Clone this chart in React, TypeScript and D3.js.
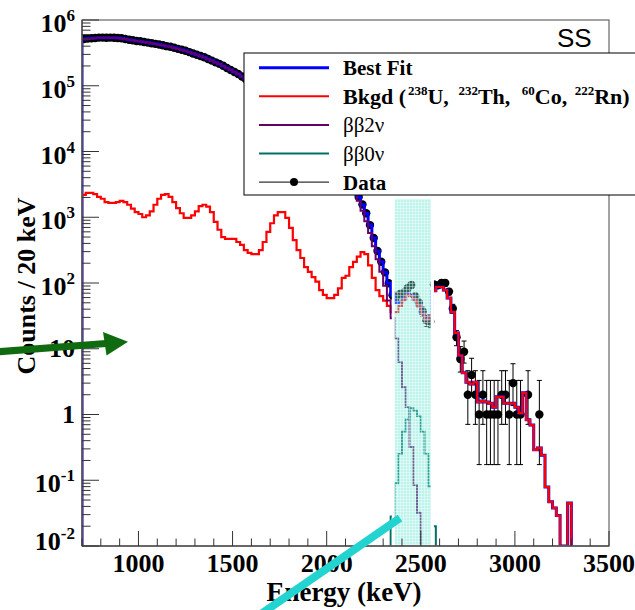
import React from "react";
import * as d3 from "d3";

// Energy binning of every histogram (keV)
const ENERGY_MIN = 700;
const ENERGY_MAX = 3500;
const BIN_KEV = 20;

// Background model (238U, 232Th, 60Co, 222Rn), counts per bin starting at 700 keV
const bkgdCounts = [
  2190, 2340, 2340, 2240, 2040, 1910, 1700, 1660, 1660, 1700,
  1780, 1700, 1550, 1350, 1200, 1120, 1000, 1070, 1230, 1550,
  1910, 2190, 2240, 2040, 1700, 1380, 1150, 980, 980, 1070,
  1230, 1480, 1550, 1450, 1200, 850, 645, 500, 470, 470,
  470, 420, 380, 316, 288, 275, 275, 316, 420, 600,
  810, 1070, 1200, 1200, 980, 690, 450, 316, 240, 174,
  148, 123, 105, 78, 66, 59, 59, 66, 83, 120,
  129, 174, 209, 251, 295, 275, 186, 120, 78, 63,
  54, 45, 36, 36, 45, 55, 66, 63, 55, 45,
  34, 27.5, 31.6, 76, 87, 87, 78, 59, 36, 17.4,
  7.9, 4.3, 3.1, 2.9, 3.1, 1.55, 1.6, 1.55, 1.48, 1.29,
  1.86, 1.86, 1.48, 1.48, 1.48, 1.29, 1.05, 2.14, 0.83, 0.69,
  0.29, 0.31, 0.24, 0.079, 0.047, 0.038, 0.029, 0, 0, 0.045,
];

// Two-neutrino double beta decay, counts per bin starting at 700 keV
const twoNuCounts = [
  513000, 519000, 525000, 531000, 537000, 537000, 537000, 537000, 536000, 531000,
  525000, 513000, 501000, 490000, 479000, 473000, 462000, 452000, 442000, 432000,
  422000, 412000, 398000, 389000, 376000, 363000, 351000, 339000, 324000, 309000,
  295000, 282000, 269000, 254000, 240000, 226000, 214000, 200000, 186000, 174000,
  162000, 151000, 138000, 126000, 115000, 105000, 95500, 87100, 78500, 70800,
  63100, 56200, 50100, 44700, 38900, 33900, 29500, 25700, 22400, 19100,
  16400, 14100, 12200, 10500, 8900, 7600, 6500, 5500, 4700, 3940,
  3310, 2750, 2290, 1780, 1260, 870, 575, 363, 229, 148,
  91, 54, 29, 14.5, 6.3, 2.6, 1.3, 0.32, 0.085, 0.032,
];

// Neutrinoless double beta decay, counts per bin starting at 2340 keV
const zeroNuStartKeV = 2340;
const zeroNuCounts = [0.028, 0.09, 0.25, 0.55, 0.85, 1.25, 1.15, 0.95, 0.55, 0.25, 0.08, 0.02];

// Observed counts per bin starting at 700 keV
const dataCounts = [
  515000, 521000, 527000, 533000, 539000, 539000, 538000, 539000, 538000, 533000,
  527000, 515000, 502000, 491000, 480000, 474000, 463000, 453000, 443000, 434000,
  424000, 414000, 400000, 391000, 378000, 364000, 352000, 340000, 325000, 310000,
  296000, 283000, 271000, 255000, 241000, 227000, 215000, 201000, 186000, 174000,
  162000, 151000, 138000, 126000, 115000, 105000, 95800, 87400, 78900, 71400,
  63900, 57300, 51300, 45900, 39900, 34600, 29900, 26000, 22600, 19300,
  16500, 14200, 12300, 10600, 8970, 7660, 6560, 5570, 4780, 4060,
  3440, 2920, 2500, 2030, 1560, 1150, 760, 483, 307, 211,
  145, 99, 65, 62, 68, 71, 83, 93, 63, 50,
  37, 27, 26, 95, 92, 100, 100, 74, 41, 15,
  7, 9, 2, 4, 2, 1, 2, 1, 1, 1,
  1, 2, 2, 1, 3, 1, 1, 0, 2, 0,
  0, 1,
];

// Region of interest around Q(bb)
const roiKeV = [2362, 2554];
const roiCeiling = 1900;

const xTickValues = [1000, 1500, 2000, 2500, 3000, 3500];
const yDecades = [-2, -1, 0, 1, 2, 3, 4, 5, 6];

// 68% CL Poisson intervals (Garwood) for small counts
const poissonInterval: Record<number, [number, number]> = {
  1: [0.173, 3.3],
  2: [0.708, 4.638],
  3: [1.367, 5.918],
  4: [2.086, 7.163],
  5: [2.84, 8.382],
  6: [3.62, 9.584],
  7: [4.419, 10.77],
  8: [5.232, 11.95],
  9: [6.057, 13.11],
  10: [6.891, 14.27],
};

const COLORS = {
  fit: "#0000ff",
  bkgd: "#ff0000",
  twoNu: "#660066",
  zeroNu: "#007068",
  data: "#000000",
};

const SERIF = "'Liberation Serif', 'Times New Roman', serif";
const SANS = "'Liberation Sans', Arial, sans-serif";

export default function App() {
  const left = 82;
  const right = 609;
  const top = 20;
  const bottom = 546;

  const x = d3.scaleLinear().domain([ENERGY_MIN, ENERGY_MAX]).range([left, right]);
  const y = d3.scaleLog().domain([1e-2, 1e6]).range([bottom, top]);
  const yv = (v: number) => (v > 0 ? Math.max(top, Math.min(bottom, y(v))) : bottom);

  const line = d3.line();
  const histPath = (startKeV: number, counts: number[]) => {
    const pts: [number, number][] = [[x(startKeV), bottom]];
    counts.forEach((c, i) => {
      const e0 = startKeV + i * BIN_KEV;
      pts.push([x(e0), yv(c)], [x(e0 + BIN_KEV), yv(c)]);
    });
    pts.push([x(startKeV + counts.length * BIN_KEV), bottom]);
    return line(pts) || "";
  };

  // Best fit = sum of all model components
  const zeroNuOffset = (zeroNuStartKeV - ENERGY_MIN) / BIN_KEV;
  const fitCounts = bkgdCounts.map(
    (b, i) => b + (twoNuCounts[i] || 0) + (zeroNuCounts[i - zeroNuOffset] || 0)
  );

  const xMinor = d3.range(ENERGY_MIN, ENERGY_MAX + 1, 100);
  const yMinor: number[] = [];
  yDecades.slice(0, -1).forEach((k) => {
    for (let m = 2; m <= 9; m++) yMinor.push(m * Math.pow(10, k));
  });

  const points = dataCounts
    .map((n, i) => ({ n, e: ENERGY_MIN + (i + 0.5) * BIN_KEV }))
    .filter((d) => d.n > 0);
  const errRange = (n: number): [number, number] =>
    poissonInterval[n] || [n - Math.sqrt(n), n + Math.sqrt(n)];

  const roiX0 = x(roiKeV[0]);
  const roiX1 = x(roiKeV[1]);
  const roiY = y(roiCeiling);

  const legendRows = [
    { key: "fit", color: COLORS.fit, width: 3 },
    { key: "bkgd", color: COLORS.bkgd, width: 2 },
    { key: "twoNu", color: COLORS.twoNu, width: 2 },
    { key: "zeroNu", color: COLORS.zeroNu, width: 2 },
    { key: "data", color: COLORS.data, width: 1 },
  ];
  const legendY0 = 67.7;
  const legendStep = 28.6;

  return (
    <svg
      width={635}
      height={610}
      style={{ position: "fixed", left: 0, top: 0, background: "#fff" }}
    >
      <defs>
        <clipPath id="plotArea">
          <rect x={left} y={top - 2} width={right - left} height={bottom - top + 2} />
        </clipPath>
        <pattern id="roiFill" width="3" height="3" patternUnits="userSpaceOnUse">
          <rect width="3" height="3" fill="#6ae8d4" fillOpacity="0.45" />
          <rect x="0" y="1" width="3" height="1" fill="#ffffff" fillOpacity="0.4" />
          <rect x="1" y="0" width="1" height="3" fill="#ffffff" fillOpacity="0.4" />
        </pattern>
      </defs>

      <g clipPath="url(#plotArea)">
        {/* data points with error bars */}
        <g stroke={COLORS.data} strokeWidth={1}>
          {points.map((d, i) => {
            const [lo, hi] = errRange(d.n);
            const cx = x(d.e);
            return (
              <g key={i}>
                <line x1={cx} x2={cx} y1={yv(lo)} y2={yv(hi)} />
                <line x1={cx - 2.5} x2={cx + 2.5} y1={yv(lo)} y2={yv(lo)} />
                <line x1={cx - 2.5} x2={cx + 2.5} y1={yv(hi)} y2={yv(hi)} />
              </g>
            );
          })}
        </g>
        <g fill={COLORS.data}>
          {points.map((d, i) => (
            <circle key={i} cx={x(d.e)} cy={yv(d.n)} r={4.2} />
          ))}
        </g>

        {/* model histograms */}
        <path d={histPath(ENERGY_MIN, fitCounts)} fill="none" stroke={COLORS.fit} strokeWidth={3} />
        <path d={histPath(ENERGY_MIN, bkgdCounts)} fill="none" stroke={COLORS.bkgd} strokeWidth={2.2} />
        <path d={histPath(ENERGY_MIN, twoNuCounts)} fill="none" stroke={COLORS.twoNu} strokeWidth={2} />
        <path d={histPath(zeroNuStartKeV, zeroNuCounts)} fill="none" stroke={COLORS.zeroNu} strokeWidth={2} />

        {/* region of interest */}
        <rect x={roiX0 - 3} y={roiY} width={3} height={bottom - roiY} fill="#fff" />
        <rect x={roiX1} y={roiY} width={3} height={bottom - roiY} fill="#fff" />
        <rect x={roiX0} y={roiY} width={roiX1 - roiX0} height={bottom - roiY} fill="url(#roiFill)" />
      </g>

      {/* frame */}
      <rect x={left} y={top} width={right - left} height={bottom - top} fill="none" stroke="#666" strokeWidth={1.2} />
      <line x1={left} x2={right} y1={bottom} y2={bottom} stroke="#555" strokeWidth={1.5} />
      <line x1={left} x2={left} y1={top} y2={bottom} stroke="#555" strokeWidth={1.5} />

      {/* x ticks */}
      <g stroke="#333" strokeWidth={1}>
        {xMinor.map((e) => (
          <line key={e} x1={x(e)} x2={x(e)} y1={bottom} y2={bottom - (e % 500 === 0 ? 15 : 7.5)} />
        ))}
      </g>
      <g fontFamily={SERIF} fontWeight="bold" fontSize={26} textAnchor="middle" fill="#000">
        {xTickValues.map((e) => (
          <text key={e} x={x(e)} y={572}>
            {e}
          </text>
        ))}
      </g>

      {/* y ticks */}
      <g stroke="#333" strokeWidth={1}>
        {yDecades.map((k) => (
          <line key={k} x1={left} x2={left + 17} y1={y(Math.pow(10, k))} y2={y(Math.pow(10, k))} />
        ))}
        {yMinor.map((v, i) => (
          <line key={i} x1={left} x2={left + 8.5} y1={y(v)} y2={y(v)} />
        ))}
      </g>
      <g fontFamily={SERIF} fontWeight="bold" fontSize={26} textAnchor="end" fill="#000">
        {yDecades.map((k) => {
          const ty = y(Math.pow(10, k));
          if (k === 0 || k === 1) {
            return (
              <text key={k} x={75} y={ty + 8.5}>
                {k === 0 ? "1" : "10"}
              </text>
            );
          }
          const base = Math.min(ty + 12, bottom + 4);
          return (
            <text key={k} x={75} y={base}>
              10
              <tspan fontSize={17} dy={-11}>
                {k}
              </tspan>
            </text>
          );
        })}
      </g>

      {/* axis titles */}
      <text
        x={344}
        y={601}
        fontFamily={SERIF}
        fontWeight="bold"
        fontSize={27}
        textAnchor="middle"
      >
        Energy (keV)
      </text>
      <text
        transform="translate(35,286) rotate(-90)"
        fontFamily={SERIF}
        fontWeight="bold"
        fontSize={26}
        textAnchor="middle"
      >
        Counts / 20 keV
      </text>

      {/* selection label */}
      <text x={557} y={47} fontFamily={SANS} fontSize={26}>
        SS
      </text>

      {/* legend */}
      <rect x={244} y={53} width={420} height={142} fill="#fff" stroke="#000" strokeWidth={1} />
      {legendRows.map((r, i) => {
        const ly = legendY0 + i * legendStep;
        return (
          <g key={r.key}>
            <line x1={259} x2={329} y1={ly} y2={ly} stroke={r.color} strokeWidth={r.width} />
            {r.key === "data" && <circle cx={294} cy={ly} r={4} fill={r.color} />}
          </g>
        );
      })}
      <g fontFamily={SERIF} fontSize={21} fill="#000">
        <text x={343} y={legendY0 + 7.5} fontWeight="bold">
          Best Fit
        </text>
        <text x={343} y={legendY0 + legendStep + 7.5} fontWeight="bold" fontSize={22}>
          Bkgd (
          <tspan fontSize={13} dy={-9} dx={2}>238</tspan>
          <tspan dy={9}>U, </tspan>
          <tspan fontSize={13} dy={-9} dx={4}>232</tspan>
          <tspan dy={9}>Th, </tspan>
          <tspan fontSize={13} dy={-9} dx={6}>60</tspan>
          <tspan dy={9}>Co, </tspan>
          <tspan fontSize={13} dy={-9} dx={2}>222</tspan>
          <tspan dy={9}>Rn)</tspan>
        </text>
        <text x={343} y={legendY0 + 2 * legendStep + 7.5}>
          ββ2ν
        </text>
        <text x={343} y={legendY0 + 3 * legendStep + 7.5}>
          ββ0ν
        </text>
        <text x={343} y={legendY0 + 4 * legendStep + 7.5} fontWeight="bold">
          Data
        </text>
      </g>

      {/* annotation arrows */}
      <line x1={-5} y1={352} x2={106} y2={343.6} stroke="#106b10" strokeWidth={7} />
      <polygon points="128,341.7 103,332 106.5,355.5" fill="#106b10" />
      <line x1={261} y1={614} x2={400} y2={518} stroke="#22d3cf" strokeWidth={8} strokeLinecap="butt" />
    </svg>
  );
}
